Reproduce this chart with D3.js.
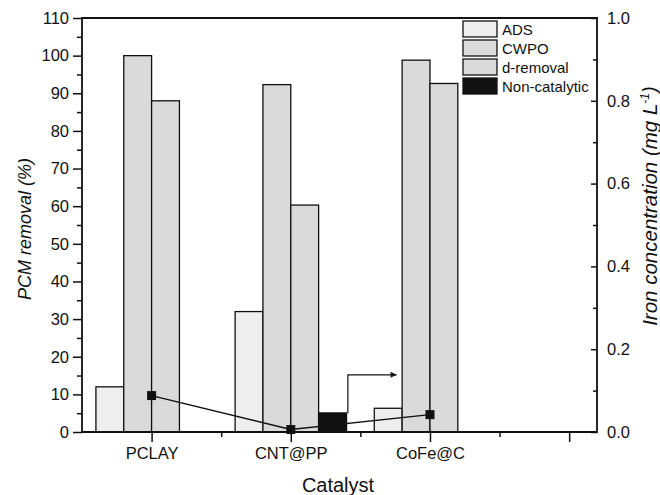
<!DOCTYPE html>
<html>
<head>
<meta charset="utf-8">
<script src="https://cdn.jsdelivr.net/npm/d3@7"></script>
<style>
  body { margin: 0; background: #fff; }
  text { font-family: "Liberation Sans", Arial, sans-serif; fill: #111; }
</style>
</head>
<body>
<div id="chart"></div>
<script>
// chart data
const categories = ["PCLAY", "CNT@PP", "CoFe@C", ""];
const ads = [12, 32, 6.3];
const cwpo = [100, 92.3, 98.8];
const dRemoval = [88, 60.3, 92.6];
const nonCatalytic = [0, 5, 0];
const ironConc = [0.088, 0.006, 0.042];

const seriesNames = ["ADS", "CWPO", "d-removal", "Non-catalytic"];
const seriesColors = ["#eeeeee", "#dadada", "#dadada", "#111111"];
const leftTicks = d3.range(0, 111, 10);
const rightTicks = [0, 0.2, 0.4, 0.6, 0.8, 1.0];
// arrow pointing at the right axis (x in category units, y in %)
const arrowPts = [[2.41, 5], [2.41, 15.2], [2.76, 15.2]];

const width = 660, height = 495;
const margin = { top: 18, right: 63, bottom: 63, left: 82 };
const x0 = margin.left, x1 = width - margin.right;
const y0 = height - margin.bottom, y1 = margin.top;

const svg = d3.select('#chart').append('svg')
  .attr('width', width)
  .attr('height', height);

const x = d3.scaleLinear().domain([0.5, 4.2]).range([x0, x1]);
const y = d3.scaleLinear().domain([0, 110]).range([y0, y1]);
const yr = d3.scaleLinear().domain([0, 1.0]).range([y0, y1]);
const barW = x(1.2) - x(1);

const series = [ads, cwpo, dRemoval, nonCatalytic];

// bars (k = series slot inside the group)
function barData(vals, k) {
  return vals.map((v, i) => ({ v, i, k })).filter(d => d.v > 0);
}

function drawBars(vals, k, stroke) {
  svg.append('g').selectAll('rect')
    .data(barData(vals, k))
    .enter()
    .append('rect')
    .attr('x', d => x(d.i + 1) + (d.k - 2) * barW)
    .attr('y', d => y(d.v))
    .attr('width', barW)
    .attr('height', d => y(0) - y(d.v))
    .attr('fill', seriesColors[k])
    .attr('stroke', stroke ? '#111' : 'none')
    .attr('stroke-width', 1.3);
}

series.forEach((vals, k) => drawBars(vals, k, true));

// iron concentration line
const line = d3.line()
  .x((d, i) => x(i + 1))
  .y(d => yr(d));

svg.append('path')
  .datum(ironConc)
  .attr('d', line)
  .attr('fill', 'none')
  .attr('stroke', '#111')
  .attr('stroke-width', 1.4);

svg.append('g').selectAll('rect')
  .data(ironConc)
  .enter()
  .append('rect')
  .attr('x', (d, i) => x(i + 1) - 4.5)
  .attr('y', d => yr(d) - 4.5)
  .attr('width', 9)
  .attr('height', 9)
  .attr('fill', '#111');

// black bar sits over the line
drawBars(nonCatalytic, 3, true);

// arrow
svg.append('defs').append('marker')
  .attr('id', 'arrow')
  .attr('viewBox', '0 0 10 10')
  .attr('refX', 10).attr('refY', 5)
  .attr('markerWidth', 11).attr('markerHeight', 6)
  .attr('markerUnits', 'userSpaceOnUse')
  .attr('orient', 'auto')
  .append('path')
  .attr('d', 'M0,0L10,5L0,10Z')
  .attr('fill', '#111');

svg.append('path')
  .attr('d', d3.line().x(d => x(d[0])).y(d => y(d[1]))(arrowPts))
  .attr('fill', 'none')
  .attr('stroke', '#111')
  .attr('stroke-width', 1.2)
  .attr('marker-end', 'url(#arrow)');

// axes
function styleAxis(g, fs) {
  g.select('.domain').remove();
  g.selectAll('line').attr('stroke', '#111').attr('stroke-width', 1.5);
  g.selectAll('text').attr('font-size', fs).attr('fill', '#111');
}

const tickFs = 16.5;

svg.append('g')
  .attr('transform', `translate(${x0},0)`)
  .call(d3.axisLeft(y).tickValues(leftTicks).tickSize(9).tickPadding(4))
  .call(g => styleAxis(g, tickFs));

svg.append('g')
  .attr('transform', `translate(${x0},0)`)
  .call(d3.axisLeft(y).tickValues(d3.range(5, 110, 10)).tickSize(5).tickFormat(''))
  .call(g => styleAxis(g, tickFs));

svg.append('g')
  .attr('transform', `translate(${x1},0)`)
  .call(d3.axisRight(yr).tickValues(rightTicks).tickSize(-6).tickPadding(10)
    .tickFormat(d3.format('.1f')))
  .call(g => styleAxis(g, tickFs));

svg.append('g')
  .attr('transform', `translate(${x1},0)`)
  .call(d3.axisRight(yr).tickValues(d3.range(0.1, 1.0, 0.2)).tickSize(-4).tickFormat(''))
  .call(g => styleAxis(g, tickFs));

svg.append('g')
  .attr('transform', `translate(0,${y0})`)
  .call(d3.axisBottom(x).tickValues([1, 2, 3, 4]).tickSize(10).tickPadding(5)
    .tickFormat(d => categories[d - 1]))
  .call(g => styleAxis(g, tickFs));

svg.append('g')
  .attr('transform', `translate(0,${y0})`)
  .call(d3.axisBottom(x).tickValues([1.5, 2.5, 3.5]).tickSize(5).tickFormat(''))
  .call(g => styleAxis(g, tickFs));

// frame (no top ticks)
svg.append('path')
  .attr('d', `M${x0},${y1}V${y0}H${x1}V${y1}Z`)
  .attr('fill', 'none')
  .attr('stroke', '#111')
  .attr('stroke-width', 1.8);

// axis titles
svg.append('text')
  .attr('transform', `translate(31,${(y0 + y1) / 2 + 4}) rotate(-90)`)
  .attr('text-anchor', 'middle')
  .attr('font-size', 18)
  .attr('font-style', 'italic')
  .text('PCM removal (%)');

const rt = svg.append('text')
  .attr('transform', `translate(657,206) rotate(-90)`)
  .attr('text-anchor', 'middle')
  .attr('font-size', 20.5)
  .attr('font-style', 'italic');
rt.append('tspan').text('Iron concentration (mg L');
rt.append('tspan').attr('font-size', 12).attr('dy', -8).text('-1');
rt.append('tspan').attr('dy', 8).text(')');

svg.append('text')
  .attr('x', 338)
  .attr('y', 492)
  .attr('text-anchor', 'middle')
  .attr('font-size', 20)
  .text('Catalyst');

// legend
const legend = svg.selectAll('.legend')
  .data(seriesNames)
  .enter()
  .append('g')
  .attr('class', 'legend')
  .attr('transform', (d, i) => `translate(463,${21 + i * 19})`);

legend.append('rect')
  .attr('width', 34)
  .attr('height', 16)
  .attr('fill', (d, i) => seriesColors[i])
  .attr('stroke', '#111')
  .attr('stroke-width', 1.3);

legend.append('text')
  .attr('x', 39)
  .attr('y', 13.5)
  .attr('font-size', 15)
  .text(d => d);
</script>
</body>
</html>
